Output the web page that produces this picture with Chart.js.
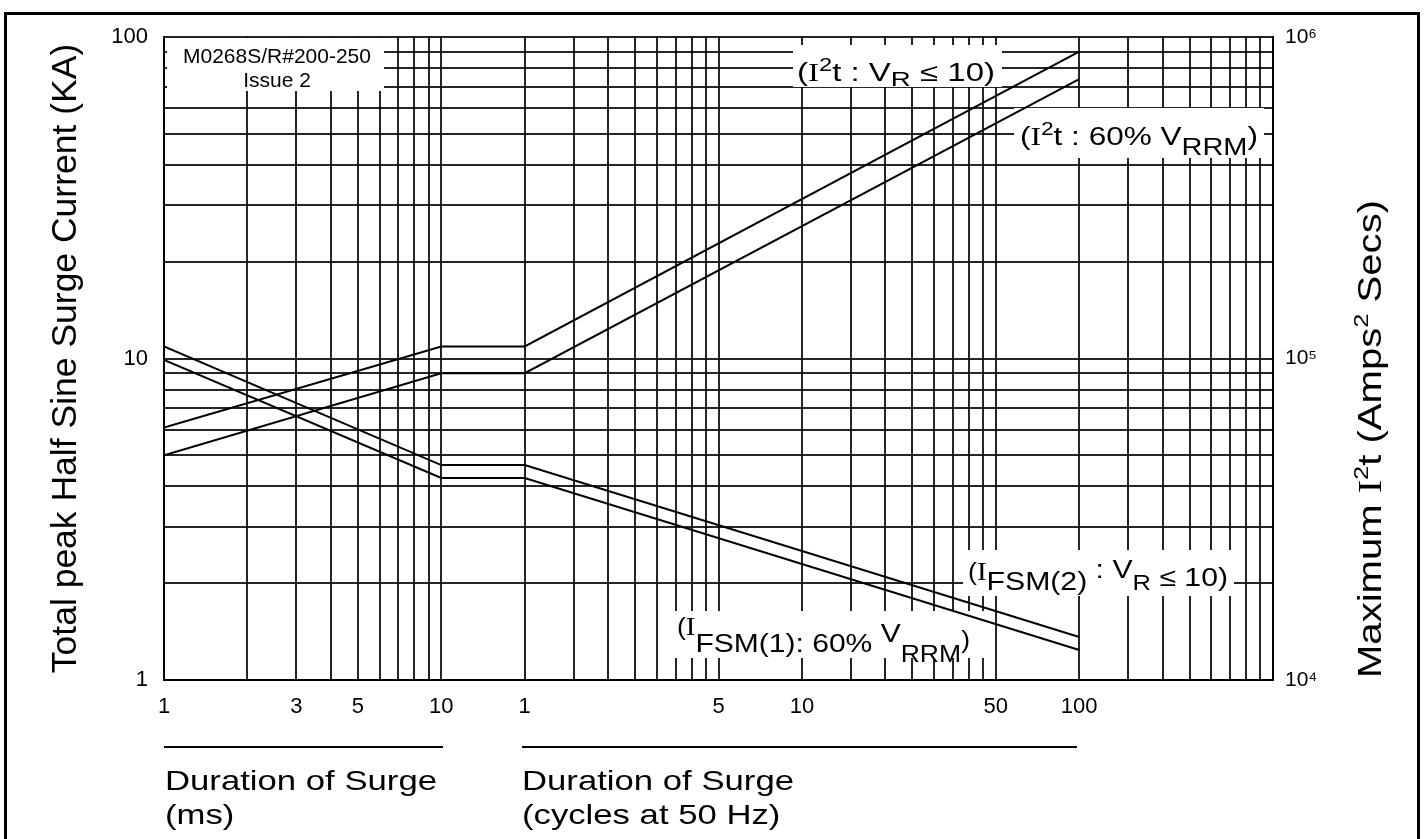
<!DOCTYPE html>
<html>
<head>
<meta charset="utf-8">
<script src="https://cdn.jsdelivr.net/npm/chart.js@4.4.1/dist/chart.umd.min.js"></script>
<style>
  html, body { margin: 0; padding: 0; background: #fff; }
</style>
</head>
<body>
<canvas id="surge" width="1424" height="839"></canvas>
<script>
// one log time axis in ms; the right half is read in cycles at 50 Hz (1 cycle = 20 ms)
const durationMs = [1, 10, 20, 2000];
const ifsmVr10 = [10.9, 4.66, 4.66, 1.36];        // KA, I_FSM(2) : V_R <= 10
const ifsm60 = [9.9, 4.25, 4.25, 1.24];           // KA, I_FSM(1) : 60% V_RRM
const i2tVr10 = [6.1e4, 1.09e5, 1.09e5, 9.0e5];   // A^2 s, I^2t : V_R <= 10
const i2t60 = [5.0e4, 9.0e4, 9.0e4, 7.4e5];       // A^2 s, I^2t : 60% V_RRM

const msGrid = [1, 2, 3, 4, 5, 6, 7, 8, 9, 10];
const cycleGrid = [1, 1.5, 2, 2.5, 3, 3.5, 4, 4.5, 5, 10, 15, 20, 25, 30, 35, 40, 45, 50,
                   100, 150, 200, 250, 300, 350, 400, 450, 500];
const msLabels = [1, 3, 5, 10];
const cycleLabels = [1, 5, 10, 50, 100];
const currentGrid = [1, 2, 3, 4, 5, 6, 7, 8, 9, 10, 20, 30, 40, 50, 60, 70, 80, 90, 100];
const currentLabels = [1, 10, 100];
const i2tTicks = [1e4, 1e5, 1e6];
const i2tTickLabels = ['10\u2074', '10\u2075', '10\u2076'];

const MS_PER_CYCLE = 20;
const xTicks = msGrid.concat(cycleGrid.map(c => c * MS_PER_CYCLE));

const SANS = "'Liberation Sans', Arial, Helvetica, sans-serif";
const SERIF = "'Liberation Serif', 'Times New Roman', serif";
const gridColor = 'rgba(0,0,0,0.85)';

function xLabel(v) {
  if (v <= 10 && msLabels.includes(v)) return String(v);
  if (v >= MS_PER_CYCLE && cycleLabels.includes(v / MS_PER_CYCLE)) return String(v / MS_PER_CYCLE);
  return '';
}

function fontOf(p) {
  return p.s + 'px ' + (p.serif ? SERIF : SANS);
}

// draws mixed text (sub/superscripts) from the left end of its baseline, stretched to width
function richText(ctx, parts, x, y, width, rotate) {
  let w = 0;
  parts.forEach(p => { ctx.font = fontOf(p); p.w = ctx.measureText(p.t).width; w += p.w; });
  const sx = width ? width / w : 1;
  ctx.save();
  ctx.translate(x, y);
  if (rotate) ctx.rotate(-Math.PI / 2);
  ctx.scale(sx, 1);
  ctx.fillStyle = '#000';
  ctx.textBaseline = 'alphabetic';
  ctx.textAlign = 'left';
  let cx = 0;
  parts.forEach(p => { ctx.font = fontOf(p); ctx.fillText(p.t, cx, p.dy || 0); cx += p.w; });
  ctx.restore();
}

const curveLabels = [
  { box: [793, 45, 209, 42], x: 797, y: 81, w: 198, parts: [
    { t: '(', s: 25 }, { t: 'I', s: 25, serif: true }, { t: '2', s: 18, dy: -10 },
    { t: 't : V', s: 25 }, { t: 'R', s: 21, dy: 5 }, { t: ' \u2264 10)', s: 25 }] },
  { box: [1014, 108, 250, 50], x: 1020, y: 145, w: 238, parts: [
    { t: '(', s: 25 }, { t: 'I', s: 25, serif: true }, { t: '2', s: 18, dy: -10 },
    { t: 't : 60% V', s: 25 }, { t: 'RRM', s: 23, dy: 10 }, { t: ')', s: 25 }] },
  { box: [963, 550, 271, 46], x: 968, y: 590, w: 260, parts: [
    { t: '(', s: 23, dy: -10 }, { t: 'I', s: 25, serif: true, dy: -10 }, { t: 'FSM(2)', s: 26 },
    { t: ' : V', s: 26, dy: -12 }, { t: 'R', s: 22 }, { t: ' \u2264 10)', s: 26, dy: -4 }] },
  { box: [672, 611, 314, 47], x: 677, y: 652, w: 293, parts: [
    { t: '(', s: 23, dy: -17 }, { t: 'I', s: 25, serif: true, dy: -17 }, { t: 'FSM(1): 60% ', s: 26 },
    { t: 'V', s: 26, dy: -10 }, { t: 'RRM', s: 23, dy: 10 }, { t: ')', s: 23, dy: -4 }] }
];

const sheetDecor = {
  id: 'sheetDecor',
  beforeDraw(chart) {
    const ctx = chart.ctx;
    ctx.save();
    ctx.fillStyle = '#fff';
    ctx.fillRect(0, 0, chart.width, chart.height);
    ctx.restore();
  },
  beforeDatasetsDraw(chart) {
    const ctx = chart.ctx;
    ctx.save();
    ctx.fillStyle = '#fff';
    ctx.fillRect(167, 38, 217, 53);
    curveLabels.forEach(l => ctx.fillRect(l.box[0], l.box[1], l.box[2], l.box[3]));
    ctx.fillStyle = '#000';
    ctx.font = '21px ' + SANS;
    ctx.textAlign = 'center';
    ctx.textBaseline = 'alphabetic';
    ctx.fillText('M0268S/R#200-250', 277, 63);
    ctx.fillText('Issue 2', 277, 87);
    ctx.restore();
    curveLabels.forEach(l => richText(ctx, l.parts, l.x, l.y, l.w, false));
  },
  afterDraw(chart) {
    const ctx = chart.ctx;
    // right axis title, reading upwards
    richText(ctx, [
      { t: 'Maximum ', s: 33 }, { t: 'I', s: 33, serif: true }, { t: '2', s: 21, dy: -13 },
      { t: 't (Amps', s: 33 }, { t: '2', s: 21, dy: -13 }, { t: ' Secs)', s: 33 }
    ], 1381, 678, 478, true);

    // duration captions under the two halves of the time axis
    ctx.save();
    ctx.strokeStyle = '#000';
    ctx.lineWidth = 2;
    ctx.beginPath();
    ctx.moveTo(164, 747); ctx.lineTo(443, 747);
    ctx.moveTo(522, 747); ctx.lineTo(1077, 747);
    ctx.stroke();
    ctx.restore();
    const cap = 28;
    ctx.save();
    ctx.font = cap + 'px ' + SANS;
    const sx = 272 / ctx.measureText('Duration of Surge').width;
    ctx.restore();
    [['Duration of Surge', 165, 790], ['(ms)', 165, 824],
     ['Duration of Surge', 522, 790], ['(cycles at 50 Hz)', 522, 824]].forEach(c => {
      ctx.save();
      ctx.font = cap + 'px ' + SANS;
      const w = ctx.measureText(c[0]).width * sx;
      ctx.restore();
      richText(ctx, [{ t: c[0], s: cap }], c[1], c[2], w, false);
    });

    // page frame
    ctx.save();
    ctx.strokeStyle = '#000';
    ctx.lineWidth = 3;
    ctx.strokeRect(5.5, 13.5, 1413, 900);
    ctx.restore();
  }
};

const curve = (ys, axis) => ({
  data: durationMs.map((x, i) => ({ x: x, y: ys[i] })),
  yAxisID: axis,
  showLine: true,
  borderColor: '#000',
  borderWidth: 2,
  pointRadius: 0,
  fill: false,
  tension: 0
});

new Chart(document.getElementById('surge'), {
  type: 'scatter',
  plugins: [sheetDecor],
  data: {
    datasets: [
      curve(ifsmVr10, 'y'),
      curve(ifsm60, 'y'),
      curve(i2tVr10, 'y2'),
      curve(i2t60, 'y2')
    ]
  },
  options: {
    responsive: false,
    animation: false,
    layout: { padding: { left: 8, right: 8, top: 37, bottom: 0 } },
    plugins: { legend: { display: false }, tooltip: { enabled: false } },
    scales: {
      x: {
        type: 'logarithmic',
        min: 1,
        max: 10000,
        afterBuildTicks: s => { s.ticks = xTicks.map(v => ({ value: v })); },
        afterFit: s => { s.height = 839 - 680; },
        grid: { color: gridColor, lineWidth: 2, drawTicks: false },
        border: { display: true, color: '#000', width: 2 },
        ticks: {
          autoSkip: false, maxRotation: 0, minRotation: 0, padding: 14, color: '#000',
          font: { size: 22, family: SANS },
          callback: v => xLabel(v)
        }
      },
      y: {
        type: 'logarithmic',
        position: 'left',
        min: 1,
        max: 100,
        afterBuildTicks: s => { s.ticks = currentGrid.map(v => ({ value: v })); },
        afterFit: s => { s.width = 164 - 8; },
        grid: { color: gridColor, lineWidth: 2, drawTicks: false },
        border: { display: true, color: '#000', width: 2 },
        ticks: {
          autoSkip: false, padding: 16, color: '#000',
          font: { size: 22, family: SANS },
          callback: v => currentLabels.includes(v) ? String(v) : ''
        },
        title: {
          display: true,
          text: 'Total peak Half Sine Surge Current (KA)',
          color: '#000',
          font: { size: 35.5, family: SANS },
          padding: { top: 37, bottom: 0 }
        }
      },
      y2: {
        type: 'logarithmic',
        position: 'right',
        min: 1e4,
        max: 1e6,
        afterBuildTicks: s => { s.ticks = i2tTicks.map(v => ({ value: v })); },
        afterFit: s => { s.width = 1416 - 1273; },
        grid: { display: false, drawTicks: false },
        border: { display: true, color: '#000', width: 2 },
        ticks: {
          autoSkip: false, padding: 12, color: '#000',
          font: { size: 21, family: SANS },
          callback: v => i2tTickLabels[i2tTicks.indexOf(v)] || ''
        }
      }
    }
  }
});
</script>
</body>
</html>
